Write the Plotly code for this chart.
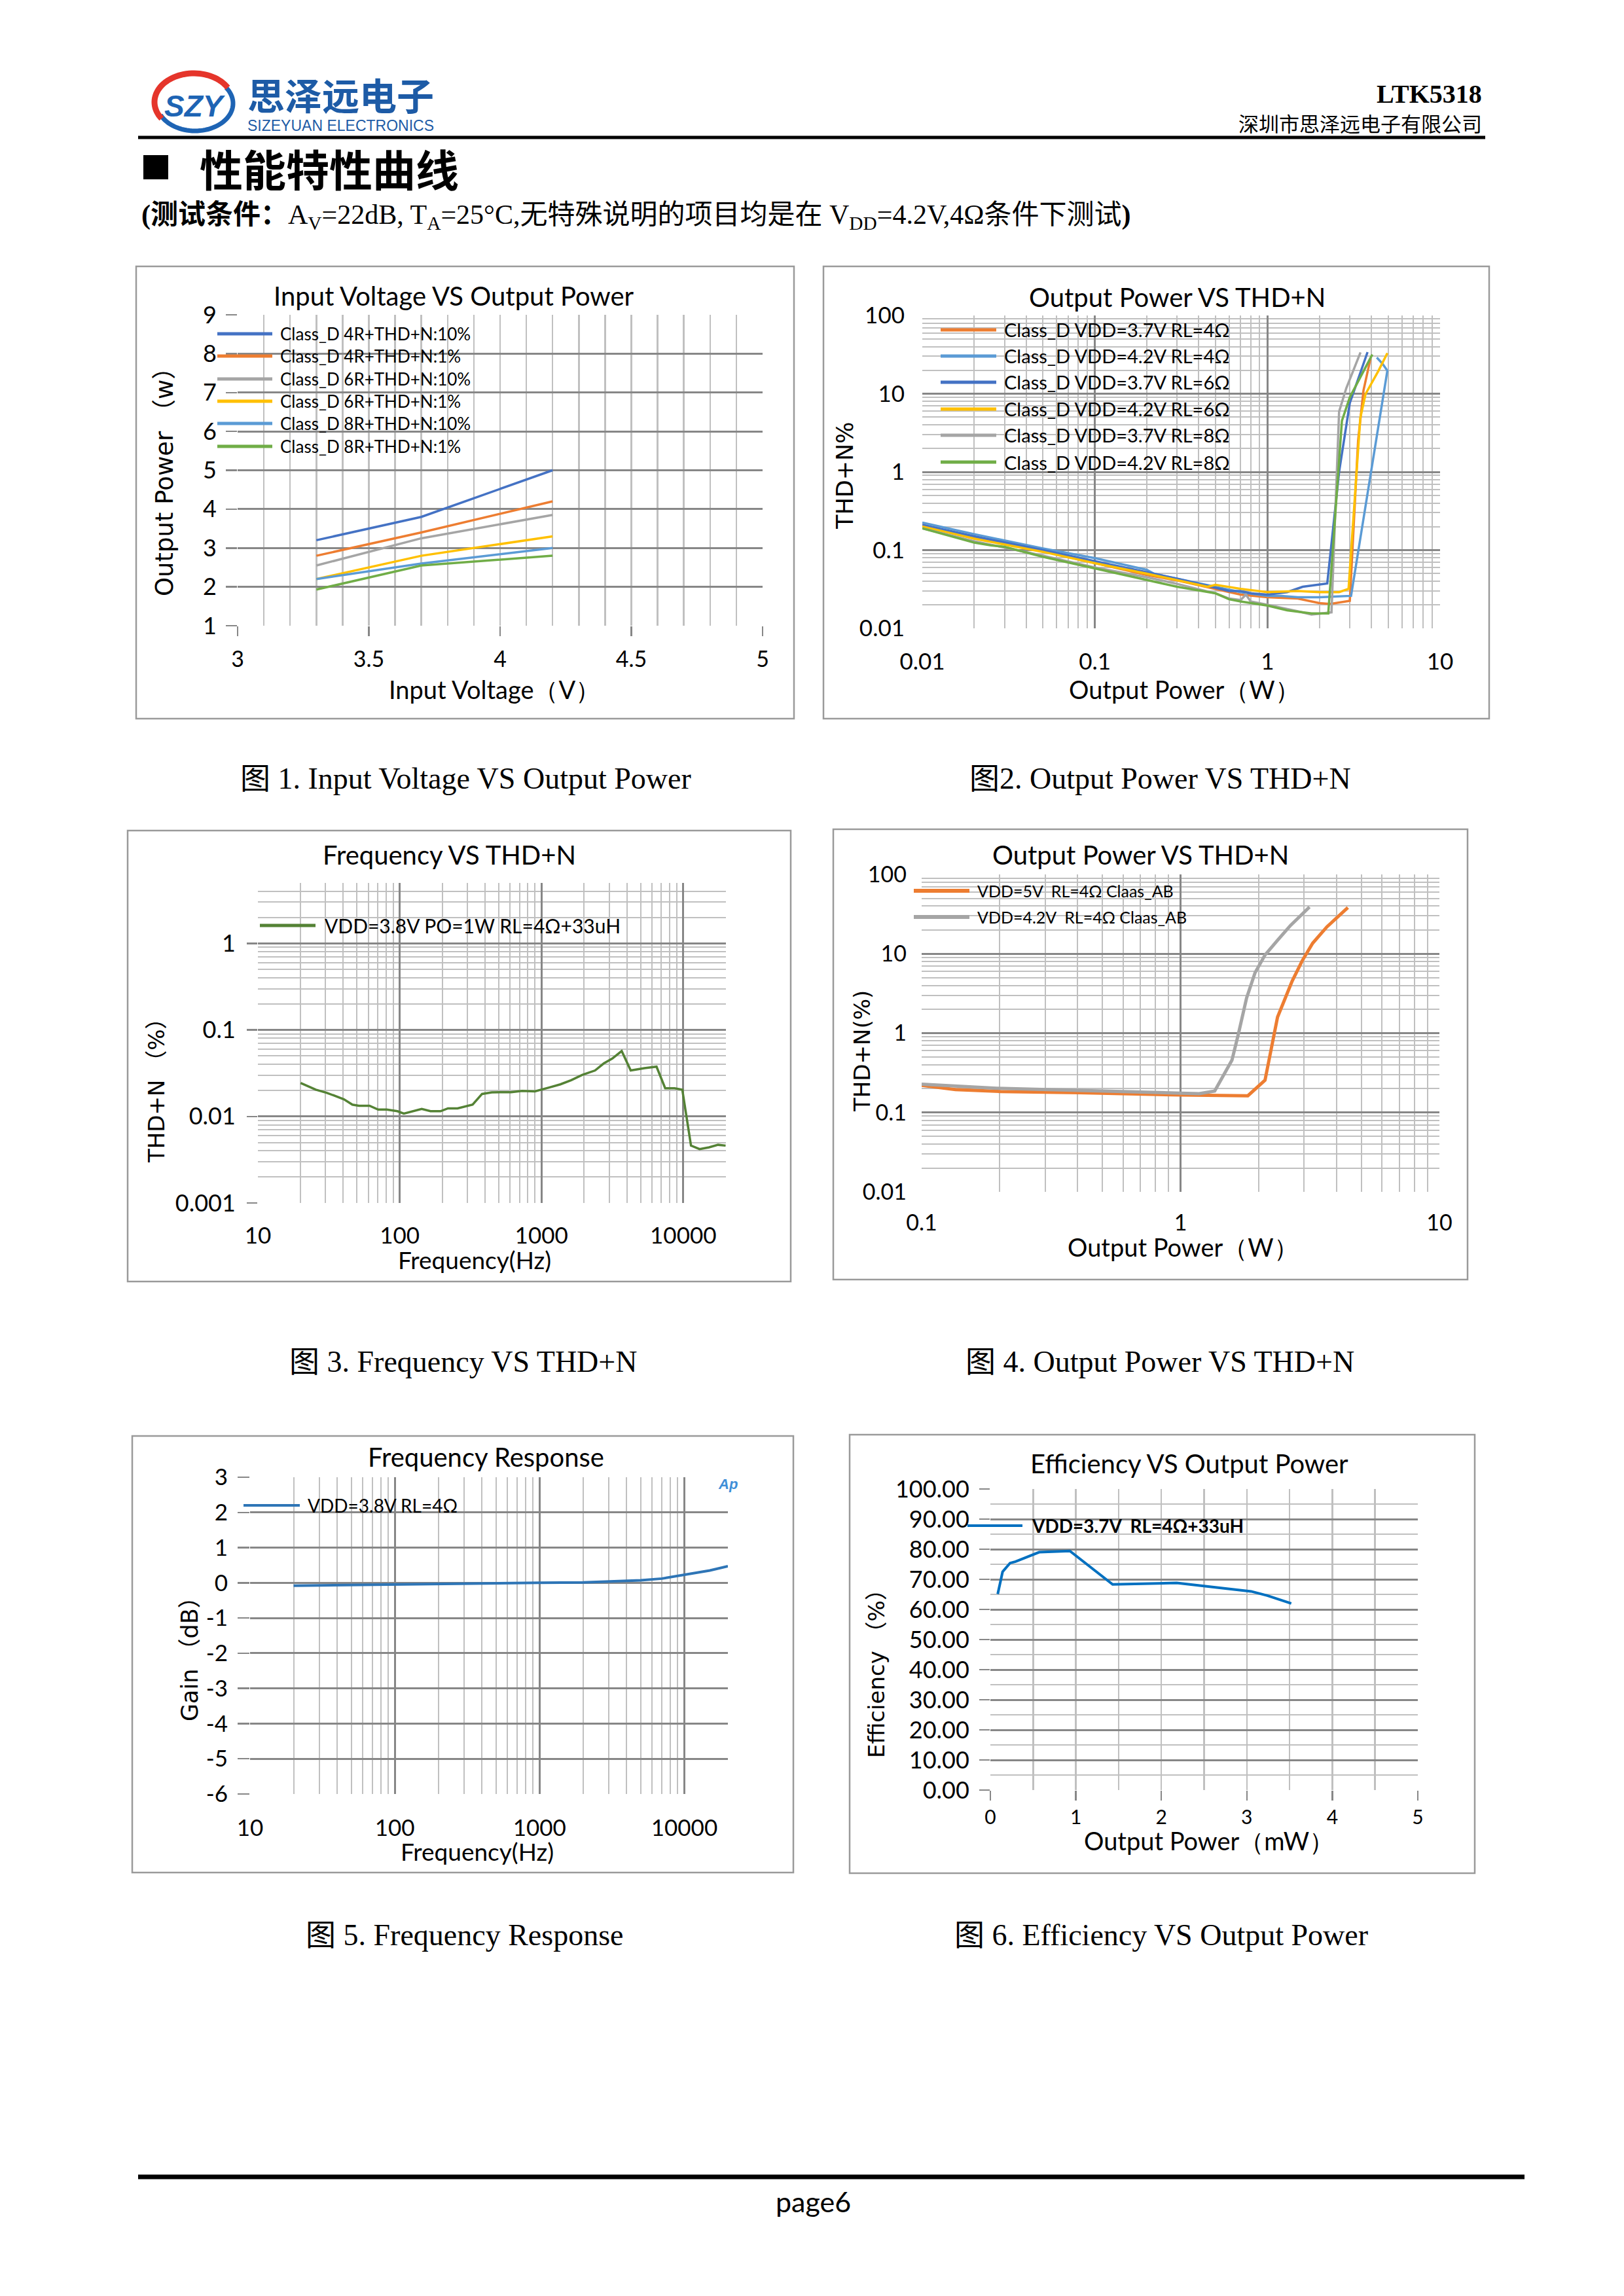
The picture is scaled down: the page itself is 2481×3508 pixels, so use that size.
import numpy as np
import plotly.graph_objects as go

W, H = 2481, 3508

# ---------------- DATA ----------------
# Fig 1: Input Voltage VS Output Power
c1_voltage = [3.3, 3.7, 4.2]
c1_names = ["Class_D 4R+THD+N:10%", "Class_D 4R+THD+N:1%", "Class_D 6R+THD+N:10%",
            "Class_D 6R+THD+N:1%", "Class_D 8R+THD+N:10%", "Class_D 8R+THD+N:1%"]
c1_4r_10 = [3.2, 3.8, 5.0]
c1_4r_1 = [2.8, 3.4, 4.2]
c1_6r_10 = [2.55, 3.25, 3.85]
c1_6r_1 = [2.2, 2.8, 3.3]
c1_8r_10 = [2.2, 2.6, 3.0]
c1_8r_1 = [1.93, 2.55, 2.8]
c1_xticks = [3, 3.5, 4, 4.5, 5]
c1_xticktext = ["3", "3.5", "4", "4.5", "5"]
c1_yticks = [1, 2, 3, 4, 5, 6, 7, 8, 9]
c1_yticktext = ["1", "2", "3", "4", "5", "6", "7", "8", "9"]

# Fig 2: Output Power VS THD+N (Class D)
c2_names = ["Class_D VDD=3.7V RL=4Ω", "Class_D VDD=4.2V RL=4Ω", "Class_D VDD=3.7V RL=6Ω",
            "Class_D VDD=4.2V RL=6Ω", "Class_D VDD=3.7V RL=8Ω", "Class_D VDD=4.2V RL=8Ω"]
c2_37_4_x = [0.01, 0.02, 0.03, 0.05, 0.1, 0.2, 0.3, 0.5, 0.7, 1.0, 1.5, 2.0, 2.3, 3.0, 3.35, 3.6, 3.95]
c2_37_4_y = [0.21, 0.145, 0.126, 0.097, 0.068, 0.048, 0.041, 0.032, 0.027, 0.025, 0.024, 0.021, 0.0205, 0.0225, 2.5, 11, 28]
c2_42_4_x = [0.01, 0.02, 0.05, 0.1, 0.2, 0.22, 0.3, 0.5, 0.7, 1.0, 1.2, 1.5, 2.0, 3.05, 4.95, 4.65, 4.3]
c2_42_4_y = [0.225, 0.16, 0.105, 0.079, 0.056, 0.05, 0.043, 0.034, 0.029, 0.026, 0.026, 0.025, 0.025, 0.026, 19.7, 24, 29]
c2_37_6_x = [0.01, 0.02, 0.05, 0.1, 0.2, 0.3, 0.5, 0.6, 0.7, 0.8, 1.0, 1.3, 1.6, 2.0, 2.22, 2.6, 3.0, 3.8]
c2_37_6_y = [0.21, 0.15, 0.1, 0.072, 0.052, 0.043, 0.033, 0.03, 0.03, 0.028, 0.027, 0.029, 0.034, 0.036, 0.0375, 1.0, 7.6, 34]
c2_42_6_x = [0.01, 0.02, 0.05, 0.1, 0.2, 0.3, 0.45, 0.5, 0.7, 1.0, 1.5, 2.0, 2.6, 2.95, 3.45, 3.7, 4.4, 4.95]
c2_42_6_y = [0.2, 0.14, 0.095, 0.068, 0.05, 0.041, 0.034, 0.036, 0.032, 0.029, 0.03, 0.029, 0.029, 0.032, 4.9, 9.9, 19.7, 33]
c2_37_8_x = [0.01, 0.02, 0.05, 0.1, 0.2, 0.3, 0.5, 0.6, 0.7, 0.75, 0.8, 1.0, 1.5, 1.8, 2.35, 2.6, 2.86, 3.46]
c2_37_8_y = [0.19, 0.13, 0.085, 0.06, 0.045, 0.037, 0.028, 0.024, 0.023, 0.027, 0.022, 0.02, 0.0165, 0.015, 0.016, 5.9, 11.7, 33.7]
c2_42_8_x = [0.01, 0.02, 0.025, 0.03, 0.05, 0.1, 0.2, 0.3, 0.5, 0.6, 0.7, 1.0, 1.3, 1.8, 2.25, 2.7, 3.0, 4.05]
c2_42_8_y = [0.19, 0.125, 0.115, 0.11, 0.082, 0.058, 0.041, 0.034, 0.028, 0.0235, 0.022, 0.0195, 0.017, 0.0155, 0.0155, 4.5, 9, 31.7]
c2_xticks = [0.01, 0.1, 1, 10]
c2_xticktext = ["0.01", "0.1", "1", "10"]
c2_yticks = [0.01, 0.1, 1, 10, 100]
c2_yticktext = ["0.01", "0.1", "1", "10", "100"]

# Fig 3: Frequency VS THD+N
c3_name = "VDD=3.8V PO=1W RL=4Ω+33uH"
c3_freq = [20, 25.6, 30.5, 40.4, 46.4, 51.6, 61.3, 70.5, 81, 96.4, 107, 123, 143, 165, 194, 219, 256, 327,
           381, 446, 611, 730, 898, 1142, 1359, 1622, 1936, 2388, 2750, 3160, 3680, 4260, 5330, 6480,
           7460, 8690, 9850, 11340, 13040, 15200, 17600, 19900]
c3_thd = [0.0244, 0.0204, 0.0188, 0.0158, 0.0137, 0.0133, 0.0133, 0.012, 0.012, 0.0115, 0.0108, 0.0115,
          0.0122, 0.0115, 0.0115, 0.0124, 0.0124, 0.0137, 0.0182, 0.019, 0.0191, 0.0197, 0.0195, 0.0217,
          0.0235, 0.0263, 0.0302, 0.034, 0.041, 0.0467, 0.0571, 0.034, 0.0362, 0.0376, 0.0212, 0.0212,
          0.0204, 0.00461, 0.0042, 0.0044, 0.0047, 0.0046]
c3_xticks = [10, 100, 1000, 10000]
c3_xticktext = ["10", "100", "1000", "10000"]
c3_yticks = [0.001, 0.01, 0.1, 1]
c3_yticktext = ["0.001", "0.01", "0.1", "1"]

# Fig 4: Output Power VS THD+N (Class AB)
c4_names = ["VDD=5V  RL=4Ω Claas_AB", "VDD=4.2V  RL=4Ω Claas_AB"]
c4_5v_x = [0.1, 0.135, 0.202, 0.406, 1.0, 1.37, 1.82, 2.12, 2.37, 2.70, 2.95, 3.24, 3.68, 4.43]
c4_5v_y = [0.22, 0.194, 0.184, 0.178, 0.166, 0.163, 0.1625, 0.255, 1.59, 4.54, 8.14, 13.6, 21.9, 38.2]
c4_42v_x = [0.1, 0.195, 0.406, 1.0, 1.18, 1.355, 1.58, 1.67, 1.8, 1.94, 2.12, 2.37, 2.66, 3.15]
c4_42v_y = [0.227, 0.202, 0.19, 0.173, 0.173, 0.186, 0.457, 0.95, 2.78, 5.77, 9.66, 14.8, 22.8, 38.9]
c4_xticks = [0.1, 1, 10]
c4_xticktext = ["0.1", "1", "10"]
c4_yticks = [0.01, 0.1, 1, 10, 100]
c4_yticktext = ["0.01", "0.1", "1", "10", "100"]

# Fig 5: Frequency Response
c5_name = "VDD=3.8V RL=4Ω"
c5_freq = [20, 30, 50, 100, 200, 500, 1000, 2000, 3000, 5000, 7000, 10000, 15000, 20000]
c5_gain = [-0.08, -0.07, -0.06, -0.05, -0.03, -0.01, 0.0, 0.01, 0.03, 0.07, 0.12, 0.22, 0.35, 0.47]
c5_xticks = [10, 100, 1000, 10000]
c5_xticktext = ["10", "100", "1000", "10000"]
c5_yticks = [-6, -5, -4, -3, -2, -1, 0, 1, 2, 3]
c5_yticktext = ["-6", "-5", "-4", "-3", "-2", "-1", "0", "1", "2", "3"]

# Fig 6: Efficiency VS Output Power
c6_name = "VDD=3.7V  RL=4Ω+33uH"
c6_power = [0.086, 0.143, 0.23, 0.295, 0.571, 0.93, 1.43, 2.18, 3.05, 3.24, 3.52]
c6_eff = [65.1, 72.5, 75.4, 75.9, 79.0, 79.4, 68.3, 68.8, 66.0, 64.6, 62.0]
c6_xticks = [0, 1, 2, 3, 4, 5]
c6_xticktext = ["0", "1", "2", "3", "4", "5"]
c6_yticks = [0, 10, 20, 30, 40, 50, 60, 70, 80, 90, 100]
c6_yticktext = ["0.00", "10.00", "20.00", "30.00", "40.00", "50.00", "60.00", "70.00", "80.00", "90.00", "100.00"]

# ---------------- STYLE ----------------
LATO = "Lato, 'Noto Sans', sans-serif"
DEJA = "'DejaVu Sans', 'Noto Sans CJK SC', sans-serif"
SERIF = "'Liberation Serif', 'Noto Sans CJK SC', serif"
CJK = "'Noto Sans CJK SC', sans-serif"
DARK = "#878787"
LIGHT = "#C0C0C0"
C_BLUE, C_ORANGE, C_GRAY, C_GOLD, C_LBLUE, C_GREEN = "#4472C4", "#ED7D31", "#A5A5A5", "#FFC000", "#5B9BD5", "#70AD47"


def dx(a, b):
    return [a / W, b / W]


def dy(top, bottom):
    return [1 - bottom / H, 1 - top / H]


def log_minor(dec_lo, dec_hi, extra=()):
    vals = []
    for d in range(dec_lo, dec_hi):
        for k in range(2, 10):
            vals.append(k * 10.0 ** d)
    return vals + list(extra)


def axis(domain, anchor, rng, tickvals, ticktext, kind="linear", gcol=DARK, gw=3,
         minor_vals=None, mcol=LIGHT, mw=2, ticks="", ticklen=0, fsize=34, standoff=0):
    a = dict(domain=domain, anchor=anchor, range=rng, type=kind, tickmode="array",
             tickvals=tickvals, ticktext=ticktext, showgrid=True, gridcolor=gcol, gridwidth=gw,
             zeroline=False, showline=False, ticks=ticks, ticklen=ticklen, tickwidth=2.5,
             tickcolor=DARK, tickfont=dict(family=LATO, size=fsize, color="black"),
             ticklabelstandoff=standoff, fixedrange=True, automargin=False)
    if minor_vals is not None:
        a["minor"] = dict(tickmode="array", tickvals=minor_vals, showgrid=True,
                          gridcolor=mcol, gridwidth=mw, ticks="")
    return a


fig = go.Figure()
ann = []
shapes = []


def T(s, x, y, size, family=LATO, color="black", xa="center", ya="middle", angle=0):
    ann.append(dict(text=s, x=x / W, y=1 - y / H, xref="paper", yref="paper", showarrow=False,
                    xanchor=xa, yanchor=ya, textangle=angle,
                    font=dict(family=family, size=size, color=color)))


def L(x0, y0, x1, y1, color, width):
    shapes.append(dict(type="line", xref="paper", yref="paper", x0=x0 / W, x1=x1 / W,
                       y0=1 - y0 / H, y1=1 - y1 / H, line=dict(color=color, width=width)))


def R(x0, y0, x1, y1, color="#9A9A9A", width=2.5, fill=None):
    d = dict(type="rect", xref="paper", yref="paper", x0=x0 / W, x1=x1 / W,
             y0=1 - y1 / H, y1=1 - y0 / H, line=dict(color=color, width=width))
    if fill:
        d["fillcolor"] = fill
    shapes.append(d)


def legend(items, lx0, lx1, tx, rows, size, lw, bold=False):
    for (name, col), yy in zip(items, rows):
        L(lx0, yy, lx1, yy, col, lw)
        T(("<b>%s</b>" % name) if bold else name, tx, yy, size, xa="left")


layout = {}

# ---------- Chart 1 ----------
c1_series = [c1_4r_10, c1_4r_1, c1_6r_10, c1_6r_1, c1_8r_10, c1_8r_1]
c1_colors = [C_BLUE, C_ORANGE, C_GRAY, C_GOLD, C_LBLUE, C_GREEN]
for ys, col in zip(c1_series, c1_colors):
    fig.add_trace(go.Scatter(x=c1_voltage, y=ys, mode="lines", line=dict(color=col, width=3.5),
                             xaxis="x", yaxis="y", showlegend=False))
c1_minor = [round(v, 2) for v in np.arange(3.1, 5.0, 0.1) if abs(v * 2 - round(v * 2)) > 1e-6]
layout["xaxis"] = axis(dx(363, 1165), "y", [3, 5], c1_xticks, c1_xticktext, gcol=LIGHT, gw=2.5,
                       minor_vals=c1_minor, mcol=LIGHT, mw=2.5, ticks="outside", ticklen=15,
                       fsize=34, standoff=6)
layout["yaxis"] = axis(dy(481, 956), "x", [1, 9], c1_yticks, c1_yticktext, gcol=DARK, gw=3,
                       ticks="outside", ticklen=17, fsize=36, standoff=7)
R(208, 407, 1213, 1098)
T("Input Voltage VS Output Power", 693, 452, 40)
T("Input Voltage（V）", 755, 1053, 38)
T("Output Power （w）", 251, 727, 37, family=DEJA, angle=-90)
legend(list(zip(c1_names, c1_colors)), 332, 416, 426, [510, 544, 579, 613, 647, 682], 26, 5)

# ---------- Chart 2 ----------
c2_xs = [c2_37_4_x, c2_42_4_x, c2_37_6_x, c2_42_6_x, c2_37_8_x, c2_42_8_x]
c2_ys = [c2_37_4_y, c2_42_4_y, c2_37_6_y, c2_42_6_y, c2_37_8_y, c2_42_8_y]
c2_colors = [C_ORANGE, C_LBLUE, C_BLUE, C_GOLD, C_GRAY, C_GREEN]
for xs, ys, col in zip(c2_xs, c2_ys, c2_colors):
    fig.add_trace(go.Scatter(x=xs, y=ys, mode="lines", line=dict(color=col, width=3.5),
                             xaxis="x2", yaxis="y2", showlegend=False))
layout["xaxis2"] = axis(dx(1409, 2200), "y2", [-2, 1], c2_xticks, c2_xticktext, kind="log",
                        minor_vals=log_minor(-2, 1), fsize=35, standoff=27)
layout["yaxis2"] = axis(dy(482, 960), "x2", [-2, 2], c2_yticks, c2_yticktext, kind="log",
                        minor_vals=log_minor(-2, 2), fsize=35, standoff=26)
R(1258, 407, 2275, 1098)
T("Output Power VS THD+N", 1798, 454, 40)
T("Output Power（W）", 1809, 1053, 38)
T("THD+N%", 1291, 727, 35, family=DEJA, angle=-90)
legend(list(zip(c2_names, c2_colors)), 1437, 1522, 1532, [504, 544, 584, 625, 665, 706], 29, 5)

# ---------- Chart 3 ----------
fig.add_trace(go.Scatter(x=c3_freq, y=c3_thd, mode="lines", line=dict(color="#548235", width=3.5),
                         xaxis="x3", yaxis="y3", showlegend=False))
layout["xaxis3"] = axis(dx(394, 1109), "y3", [1, np.log10(20000)], c3_xticks, c3_xticktext, kind="log",
                        minor_vals=log_minor(1, 4, [20000]), fsize=35, standoff=26)
layout["yaxis3"] = axis(dy(1349, 1838), "x3", [-3, np.log10(5)], c3_yticks, c3_yticktext, kind="log",
                        minor_vals=log_minor(-3, 0, [2, 3, 4, 5]), ticks="outside", ticklen=16,
                        fsize=36, standoff=10)
R(195, 1269, 1208, 1958)
T("Frequency VS THD+N", 686, 1306, 40)
T("Frequency(Hz)", 725, 1924, 37)
T("THD+N （%）", 239, 1658, 34, family=DEJA, angle=-90)
legend([(c3_name, "#548235")], 397, 482, 494, [1414], 30, 5)

# ---------- Chart 4 ----------
fig.add_trace(go.Scatter(x=c4_5v_x, y=c4_5v_y, mode="lines", line=dict(color=C_ORANGE, width=5),
                         xaxis="x4", yaxis="y4", showlegend=False))
fig.add_trace(go.Scatter(x=c4_42v_x, y=c4_42v_y, mode="lines", line=dict(color=C_GRAY, width=5),
                         xaxis="x4", yaxis="y4", showlegend=False))
layout["xaxis4"] = axis(dx(1408, 2199), "y4", [-1, 1], c4_xticks, c4_xticktext, kind="log",
                        minor_vals=log_minor(-1, 1), fsize=34, standoff=24)
layout["yaxis4"] = axis(dy(1336, 1821), "x4", [-2, 2], c4_yticks, c4_yticktext, kind="log",
                        minor_vals=log_minor(-2, 2), fsize=34, standoff=22)
R(1273, 1267, 2242, 1955)
T("Output Power VS THD+N", 1742, 1306, 40)
T("Output Power（W）", 1807, 1905, 38)
T("THD+N(%)", 1317, 1606, 34, family=DEJA, angle=-90)
legend(list(zip(c4_names, [C_ORANGE, C_GRAY])), 1396, 1481, 1491, [1361, 1401], 25, 6)

# ---------- Chart 5 ----------
fig.add_trace(go.Scatter(x=c5_freq, y=c5_gain, mode="lines", line=dict(color="#2E75B6", width=4),
                         xaxis="x5", yaxis="y5", showlegend=False))
layout["xaxis5"] = axis(dx(382, 1112), "y5", [1, np.log10(20000)], c5_xticks, c5_xticktext, kind="log",
                        minor_vals=log_minor(1, 4, [20000]), fsize=35, standoff=28)
layout["yaxis5"] = axis(dy(2257, 2741), "x5", [-6, 3], c5_yticks, c5_yticktext, gcol=DARK, gw=3,
                        ticks="outside", ticklen=18, fsize=35, standoff=8)
R(202, 2194, 1212, 2861)
T("Frequency Response", 742, 2226, 40)
T("Frequency(Hz)", 729, 2828, 37)
T("Gain （dB）", 290, 2526, 35, family=DEJA, angle=-90)
T("<b><i>Ap</i></b>", 1112, 2267, 22, family="'Liberation Sans', sans-serif", color="#3F8FD8")
legend([(c5_name, "#2E75B6")], 372, 458, 468, [2300], 28, 4)

# ---------- Chart 6 ----------
fig.add_trace(go.Scatter(x=c6_power, y=c6_eff, mode="lines", line=dict(color="#0070C0", width=4),
                         xaxis="x6", yaxis="y6", showlegend=False))
layout["xaxis6"] = axis(dx(1513, 2166), "y6", [0, 5], c6_xticks, c6_xticktext, gcol=LIGHT, gw=2.5,
                        minor_vals=[0.5, 1.5, 2.5, 3.5, 4.5], mcol=LIGHT, mw=2.5, ticks="outside",
                        ticklen=15, fsize=30, standoff=0)
layout["yaxis6"] = axis(dy(2275, 2735), "x6", [0, 100], c6_yticks, c6_yticktext, gcol=DARK, gw=3,
                        minor_vals=[5, 15, 25, 35, 45, 55, 65, 75, 85, 95], mcol=LIGHT, mw=2.5,
                        ticks="outside", ticklen=16, fsize=36, standoff=8)
R(1298, 2192, 2253, 2862)
T("Efficiency VS Output Power", 1817, 2236, 40)
T("Output Power（mW）", 1847, 2812, 38)
T("Efficiency （%）", 1339, 2549, 34, family=DEJA, angle=-90)
legend([(c6_name, "#0070C0")], 1478, 1562, 1574, [2331], 28, 4, bold=True)

# ---------- Page header / footer ----------
def ell_path(cx, cy, rx, ry, t0, t1, n=48):
    pts = []
    for t in np.linspace(np.radians(t0), np.radians(t1), n):
        px = cx + rx * np.cos(t)
        py = cy - ry * np.sin(t)
        pts.append("%.5f,%.5f" % (px / W, 1 - py / H))
    return "M" + " L".join(pts)


shapes.append(dict(type="path", xref="paper", yref="paper", path=ell_path(298, 158, 58, 42, 205, 395),
                   line=dict(color="#1E64B4", width=7)))
shapes.append(dict(type="path", xref="paper", yref="paper", path=ell_path(296, 156, 60, 44, 30, 215),
                   line=dict(color="#E5352B", width=9)))
T("<b><i>SZY</i></b>", 298, 162, 46, family="'Liberation Sans', sans-serif", color="#1E64B4")
T("<b>思泽远电子</b>", 520, 143, 57, family=CJK, color="#1D5BA6")
T("SIZEYUAN ELECTRONICS", 520, 192, 23, family="'Liberation Sans Narrow', 'Liberation Sans', sans-serif",
  color="#1D5BA6")
T("<b>LTK5318</b>", 2266, 143, 40, family=SERIF, xa="right")
T("深圳市思泽远电子有限公司", 2266, 187, 31, family=CJK, xa="right")
L(211, 210, 2269, 210, "black", 5)
R(219, 237, 257, 274, color="black", width=0, fill="black")
T("<b>性能特性曲线</b>", 303, 256, 66, family=CJK, xa="left")
T("<b>(测试条件：</b>A<sub>V</sub>=22dB, T<sub>A</sub>=25°C,无特殊说明的项目均是在 V<sub>DD</sub>=4.2V,4Ω条件下测试<b>)</b>",
  214, 331, 42, family=SERIF, xa="left")

T("图 1. Input Voltage VS Output Power", 711, 1189, 46, family=SERIF)
T("图2. Output Power VS THD+N", 1772, 1189, 46, family=SERIF)
T("图 3. Frequency VS THD+N", 708, 2080, 46, family=SERIF)
T("图 4. Output Power VS THD+N", 1772, 2080, 46, family=SERIF)
T("图 5. Frequency Response", 709, 2956, 46, family=SERIF)
T("图 6. Efficiency VS Output Power", 1774, 2956, 46, family=SERIF)

L(211, 3326, 2329, 3326, "black", 7)
T("page6", 1242, 3363, 43, family=LATO)

fig.update_layout(width=W, height=H, margin=dict(l=0, r=0, t=0, b=0, pad=0), autosize=False,
                  paper_bgcolor="white", plot_bgcolor="white", showlegend=False,
                  annotations=ann, shapes=shapes, **layout)

fig.write_html("out.html", config={"displayModeBar": False, "staticPlot": True},
               post_script="document.body.style.margin='0';document.body.style.overflow='hidden';")
